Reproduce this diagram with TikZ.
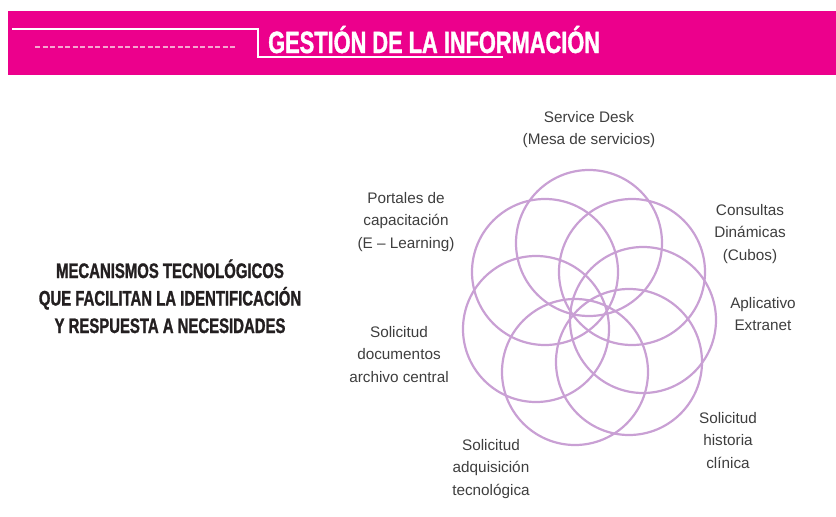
\documentclass[tikz,border=0pt]{standalone}
\usepackage{fontspec}
\setmainfont{Liberation Sans}
\newfontfamily\condfont{Liberation Sans}[FakeStretch=0.71,FakeBold=1.2]
\usepackage{xcolor}
\usepackage{tikz}
\usetikzlibrary{positioning}
\definecolor{bannermagenta}{RGB}{236,0,140}
\definecolor{dashpink}{RGB}{246,165,208}
\definecolor{petalpurple}{RGB}{201,160,212}
\definecolor{labelgray}{RGB}{62,62,62}
\definecolor{headdark}{RGB}{35,31,32}
\tikzset{
  petal/.style={draw=petalpurple, line width=2.2pt},
  every node/.style={anchor=center}
}

\begin{document}
\begin{tikzpicture}[
  x=1pt, y=-1pt,
  lbl/.style={align=center, anchor=base, inner sep=0pt, text=labelgray, font=\fontsize{15.3}{22.5}\selectfont},
  headtxt/.style={inner sep=0pt}
]
\useasboundingbox (0,0) rectangle (836,517);

% banner with title
\fill[bannermagenta] (8,11) rectangle (836,75);
\draw[white, line width=2pt] (12,29) -- (258,29) -- (258,57) -- (503,57);
\draw[dashpink, line width=1.3pt, dash pattern=on 5pt off 2.5pt] (35,47) -- (237,47);
\node[headtxt, anchor=base west, text=white, font=\condfont\bfseries\fontsize{30.7}{36}\selectfont] (title) at (268,53) {GESTIÓN DE LA INFORMACIÓN};

% left heading (base = last line)
\node[headtxt, anchor=base, align=center, text=headdark, font=\condfont\bfseries\fontsize{21}{27.5}\selectfont] (mech) at (170,333)
  {MECANISMOS TECNOLÓGICOS\\QUE FACILITAN LA IDENTIFICACIÓN\\Y RESPUESTA A NECESIDADES};

% rosette of seven circles
\draw[petal] (589,243) circle[radius=73pt];
\draw[petal] (632,272) circle[radius=73pt];
\draw[petal] (643,320) circle[radius=73pt];
\draw[petal] (629,362) circle[radius=73pt];
\draw[petal] (575,372) circle[radius=73pt];
\draw[petal] (536,329) circle[radius=73pt];
\draw[petal] (545,272) circle[radius=73pt];

% labels round the rosette
\node[lbl] (desk)     at (589,144.5) {Service Desk\\(Mesa de servicios)};
\node[lbl] (portal)   at (406,248)   {Portales de\\capacitación\\(E – Learning)};
\node[lbl] (cubos)    at (750,260)   {Consultas\\Dinámicas\\(Cubos)};
\node[lbl] (extranet) at (763,330.5) {Aplicativo\\Extranet};
\node[lbl] (archivo)  at (399,382)   {Solicitud\\documentos\\archivo central};
\node[lbl] (adquis)   at (491,495)   {Solicitud\\adquisición\\tecnológica};
\node[lbl] (historia) at (728,468)   {Solicitud\\historia\\clínica};

\end{tikzpicture}
\end{document}
